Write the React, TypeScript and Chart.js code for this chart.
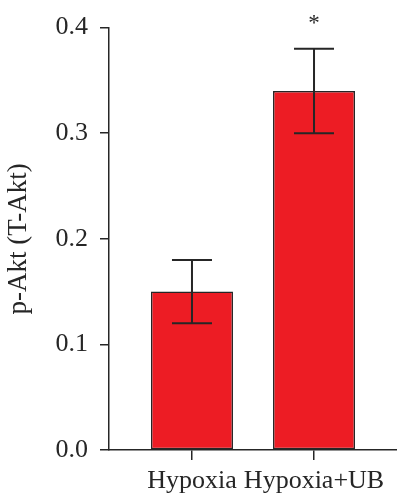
import React, { useEffect, useRef } from "react";
import { Chart, registerables } from "chart.js";

Chart.register(...registerables);

const categories = ["Hypoxia", "Hypoxia+UB"];
const means = [0.15, 0.34];
const errors = [0.03, 0.04];
const significance = ["", "*"];
const yTicks = [0, 0.1, 0.2, 0.3, 0.4];
const yTitle = "p-Akt (T-Akt)";

const FONT = "'Liberation Serif', 'DejaVu Serif', serif";
const INK = "#262626";
const RED = "#ED1C24";

const errorBarPlugin = {
  id: "errorBars",
  afterDatasetsDraw(chart: any) {
    const { ctx, scales } = chart;
    const xs = scales.x;
    const ys = scales.y;
    ctx.save();
    ctx.strokeStyle = INK;
    ctx.lineWidth = 2;
    const capHalf = 20;
    means.forEach((m, i) => {
      const x = xs.getPixelForValue(i + 1);
      const yHi = ys.getPixelForValue(m + errors[i]);
      const yLo = ys.getPixelForValue(m - errors[i]);
      ctx.beginPath();
      ctx.moveTo(x, yHi);
      ctx.lineTo(x, yLo);
      ctx.moveTo(x - capHalf, yHi);
      ctx.lineTo(x + capHalf, yHi);
      ctx.moveTo(x - capHalf, yLo);
      ctx.lineTo(x + capHalf, yLo);
      ctx.stroke();
      if (significance[i]) {
        ctx.fillStyle = INK;
        ctx.font = `23px ${FONT}`;
        ctx.textAlign = "center";
        ctx.textBaseline = "alphabetic";
        ctx.fillText(significance[i], x, yHi - 19);
      }
    });
    ctx.restore();
  },
};

export default function App() {
  const ref = useRef<HTMLCanvasElement | null>(null);

  useEffect(() => {
    if (!ref.current) return;
    const chart = new Chart(ref.current, {
      type: "bar",
      data: {
        datasets: [
          {
            data: means.map((v, i) => ({ x: i + 1, y: v })),
            backgroundColor: RED,
            borderColor: INK,
            borderWidth: 1.5,
            borderSkipped: false,
            barPercentage: 0.672,
            categoryPercentage: 1,
          },
        ],
      },
      options: {
        responsive: false,
        animation: false,
        layout: { padding: { top: 16, right: 0, left: 0, bottom: 0 } },
        plugins: {
          legend: { display: false },
          tooltip: { enabled: false },
        },
        scales: {
          x: {
            type: "linear",
            offset: false,
            min: 0.32,
            max: 2.68,
            afterBuildTicks: (s: any) => {
              s.ticks = categories.map((_, i) => ({ value: i + 1 }));
            },
            afterFit: (s: any) => {
              s.height = 50;
            },
            ticks: {
              autoSkip: false,
              maxRotation: 0,
              padding: 6,
              color: INK,
              font: { family: FONT, size: 26 },
              callback: (v: any) => categories[Number(v) - 1] ?? "",
            },
            grid: {
              offset: false,
              drawOnChartArea: false,
              drawTicks: true,
              tickLength: 10,
              color: INK,
              lineWidth: 1.5,
            },
            border: { display: true, color: INK, width: 1.5 },
          },
          y: {
            min: 0,
            max: 0.4,
            afterBuildTicks: (s: any) => {
              s.ticks = yTicks.map((v) => ({ value: v }));
            },
            afterFit: (s: any) => {
              s.width = 109;
            },
            ticks: {
              padding: 12,
              color: INK,
              font: { family: FONT, size: 26 },
              callback: (v: any) => Number(v).toFixed(1),
            },
            grid: {
              drawOnChartArea: false,
              drawTicks: true,
              tickLength: 9,
              color: INK,
              lineWidth: 1.5,
            },
            border: { display: true, color: INK, width: 1.5 },
            title: {
              display: true,
              text: yTitle,
              color: INK,
              font: { family: FONT, size: 27 },
              padding: { top: 3, bottom: 3 },
            },
          },
        },
      },
      plugins: [errorBarPlugin],
    } as any);
    return () => chart.destroy();
  }, []);

  return (
    <div style={{ position: "fixed", left: 0, top: 0, width: 397, height: 500, background: "#fff" }}>
      <canvas ref={ref} width={397} height={500} style={{ display: "block" }} />
    </div>
  );
}
